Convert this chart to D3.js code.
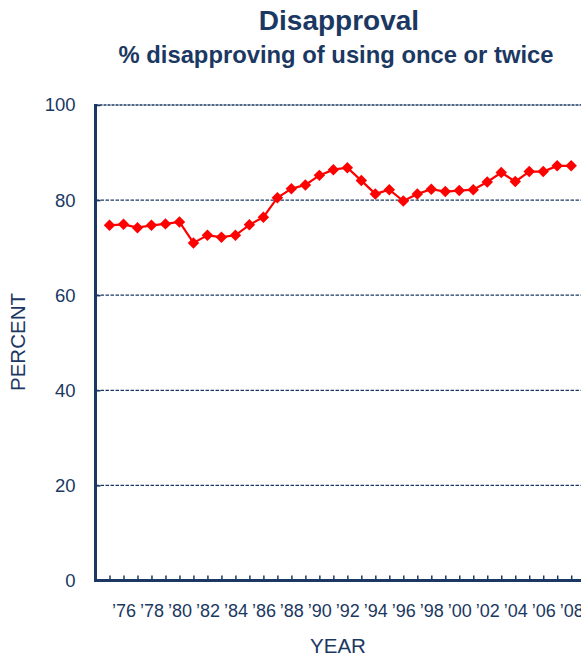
<!DOCTYPE html>
<html>
<head>
<meta charset="utf-8">
<script src="https://cdn.jsdelivr.net/npm/d3@7"></script>
<style>
  body { margin: 0; background: #fff; }
  text { font-family: "Liberation Sans", Arial, sans-serif; fill: #1b3862; }
</style>
</head>
<body>
<div id="chart"></div>
<script>
// data
let years = [1975, 1976, 1977, 1978, 1979, 1980, 1981, 1982, 1983, 1984, 1985, 1986,
    1987, 1988, 1989, 1990, 1991, 1992, 1993, 1994, 1995, 1996, 1997, 1998, 1999,
    2000, 2001, 2002, 2003, 2004, 2005, 2006, 2007, 2008];
let disapproval = [74.7, 74.9, 74.2, 74.7, 75.0, 75.4, 71.0, 72.6, 72.2, 72.6, 74.8, 76.4,
    80.5, 82.4, 83.2, 85.2, 86.4, 86.8, 84.1, 81.3, 82.2, 79.8, 81.3, 82.3, 81.8,
    82.0, 82.2, 83.8, 85.8, 83.9, 86.0, 86.0, 87.2, 87.2];
let y_ticks = [0, 20, 40, 60, 80, 100];
let grid_values = [20, 40, 60, 80, 100];
let label_years = [1976, 1978, 1980, 1982, 1984, 1986, 1988, 1990, 1992, 1994,
    1996, 1998, 2000, 2002, 2004, 2006, 2008];

let title = 'Disapproval';
let subtitle = '% disapproving of using once or twice';

let chart_width = 581;
let chart_height = 660;
let plot_left = 95.5, plot_right = 581, plot_top = 105, plot_bottom = 580.5;
let navy = '#1b3862';

let svg = d3.select('#chart')
    .append('svg')
    .attr('width', chart_width)
    .attr('height', chart_height);

// escalas
let x_scale = d3.scaleLinear()
    .domain([1974, 2008.7])
    .range([plot_left, plot_right]);

let y_scale = d3.scaleLinear()
    .domain([0, 100])
    .range([plot_bottom, plot_top]);

// titulos
svg.append('text')
    .attr('x', 339).attr('y', 30)
    .attr('text-anchor', 'middle')
    .attr('font-size', 28).attr('font-weight', 'bold')
    .text(title);

svg.append('text')
    .attr('x', 336).attr('y', 63)
    .attr('text-anchor', 'middle')
    .attr('font-size', 23.8).attr('font-weight', 'bold')
    .text(subtitle);

// grade tracejada
svg.append('g').selectAll('line')
    .data(grid_values)
    .enter()
    .append('line')
    .attr('x1', plot_left).attr('x2', plot_right)
    .attr('y1', d => y_scale(d)).attr('y2', d => y_scale(d))
    .attr('stroke', navy)
    .attr('stroke-width', 1.3)
    .attr('stroke-dasharray', d => d === 100 ? '3,1' : '3.5,1.5');

// eixo y
let y_axis = d3.axisLeft(y_scale)
    .tickValues(y_ticks)
    .tickSize(-5)
    .tickPadding(20)
    .tickFormat(d3.format('d'));
let gy = svg.append('g')
    .attr('transform', 'translate(' + plot_left + ',0)')
    .call(y_axis);
gy.select('.domain').remove();
gy.selectAll('.tick line').attr('stroke', navy).attr('stroke-width', 1.5);
gy.selectAll('.tick text').attr('font-size', 18.5).attr('fill', navy);

// eixo x
let x_axis = d3.axisBottom(x_scale)
    .tickValues(years)
    .tickSize(-5)
    .tickPadding(24)
    .tickFormat(d => label_years.includes(d) ? '\u2019' + String(d).slice(2) : '');
let gx = svg.append('g')
    .attr('transform', 'translate(0,' + plot_bottom + ')')
    .call(x_axis);
gx.select('.domain').remove();
gx.selectAll('.tick line').attr('stroke', navy).attr('stroke-width', 1.5);
gx.selectAll('.tick text').attr('font-size', 18).attr('fill', navy);

// linhas dos eixos
svg.append('line')
    .attr('x1', plot_left).attr('x2', plot_left)
    .attr('y1', plot_top - 1).attr('y2', plot_bottom + 1.5)
    .attr('stroke', navy).attr('stroke-width', 3);
svg.append('line')
    .attr('x1', plot_left - 1.5).attr('x2', plot_right)
    .attr('y1', plot_bottom).attr('y2', plot_bottom)
    .attr('stroke', navy).attr('stroke-width', 3);

// rotulos dos eixos
svg.append('text')
    .attr('x', 338).attr('y', 653)
    .attr('text-anchor', 'middle')
    .attr('font-size', 20.5)
    .text('YEAR');

svg.append('text')
    .attr('transform', 'translate(25,342) rotate(-90)')
    .attr('text-anchor', 'middle')
    .attr('font-size', 20.5)
    .text('PERCENT');

// linha e marcadores
let line = d3.line()
    .x((d, i) => x_scale(years[i]))
    .y(d => y_scale(d));

svg.append('path')
    .datum(disapproval)
    .attr('d', line)
    .attr('fill', 'none')
    .attr('stroke', '#ff0000')
    .attr('stroke-width', 2.2);

let diamond = d3.symbol().type(d3.symbolSquare).size(66);
svg.append('g').selectAll('path')
    .data(disapproval)
    .enter()
    .append('path')
    .attr('d', diamond)
    .attr('transform', (d, i) => 'translate(' + x_scale(years[i]) + ',' + y_scale(d) + ') rotate(45)')
    .attr('fill', '#ff0000');
</script>
</body>
</html>
